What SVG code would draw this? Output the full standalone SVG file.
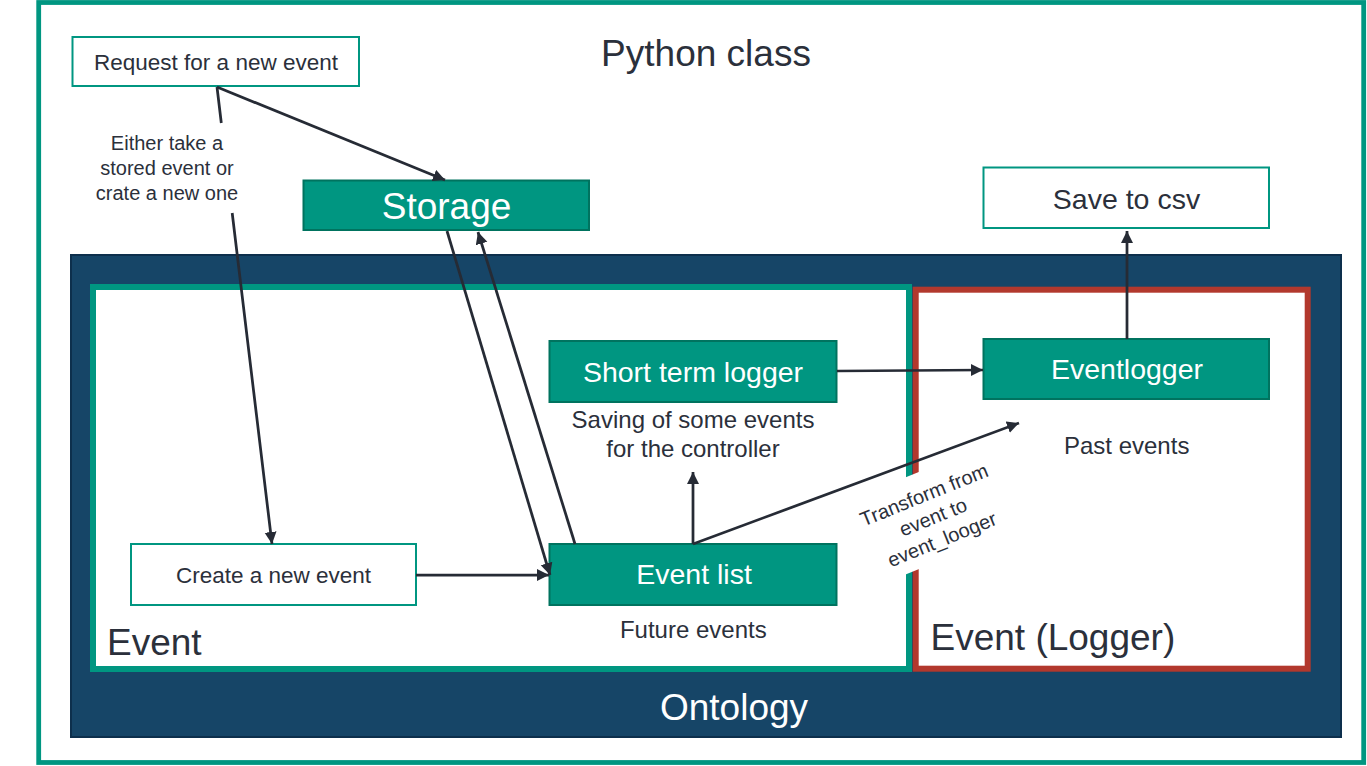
<svg xmlns="http://www.w3.org/2000/svg" width="1367" height="766" viewBox="0 0 1367 766">
<style>
text{font-family:"Liberation Sans",Arial,sans-serif;fill:#2b303b}
.w{fill:#ffffff}
.big{font-size:37px}
.hdr{font-size:28.5px}
.desc{font-size:24px}
.sm{font-size:22.5px}
.lbl{font-size:20px}
.tealbox{fill:#009681;stroke:#00735f;stroke-width:2}
.whitebox{fill:#ffffff;stroke:#009681;stroke-width:2}
.conn{fill:none;stroke:#262b35;stroke-width:2.75}
</style>
<defs>
<marker id="arr" markerUnits="userSpaceOnUse" markerWidth="13" markerHeight="13" refX="12" refY="6" orient="auto">
<path d="M0,0 L12,6 L0,12 z" fill="#262b35"/>
</marker>
</defs>
<rect width="1367" height="766" fill="#ffffff"/>
<g id="python-class">
<rect x="38.7" y="2.5" width="1325" height="760" fill="#ffffff" stroke="#009681" stroke-width="4.8"/>
<text class="big" x="706" y="65.5" text-anchor="middle">Python class</text>
</g>
<g id="ontology">
<rect x="71" y="255" width="1270" height="482" fill="#164567" stroke="#0d2f4c" stroke-width="2"/>
<text class="big w" x="734" y="720" text-anchor="middle">Ontology</text>
</g>
<g id="event-container">
<rect x="93" y="287" width="816" height="382" fill="#ffffff" stroke="#009681" stroke-width="6"/>
<text class="big" x="107" y="655">Event</text>
</g>
<g id="event-logger-container">
<rect x="915.7" y="289.7" width="392" height="379" fill="#ffffff" stroke="#b2382d" stroke-width="6"/>
<text class="big" x="930.5" y="650">Event (Logger)</text>
</g>
<g id="request">
<rect class="whitebox" x="72.5" y="37" width="286.5" height="49"/>
<text class="sm" x="216" y="70" text-anchor="middle">Request for a new event</text>
</g>
<g id="storage">
<rect class="tealbox" x="303.5" y="180.5" width="285.5" height="49.5"/>
<text class="big w" x="446.5" y="218.5" text-anchor="middle">Storage</text>
</g>
<g id="save-csv">
<rect class="whitebox" x="983.5" y="167.5" width="285.5" height="60.5"/>
<text class="hdr" x="1126.5" y="209" text-anchor="middle">Save to csv</text>
</g>
<g id="short-term-logger">
<rect class="tealbox" x="549.5" y="341" width="287" height="61"/>
<text class="hdr w" x="693" y="381.5" text-anchor="middle">Short term logger</text>
<text class="desc" x="693" y="427.5" text-anchor="middle">Saving of some events</text>
<text class="desc" x="693" y="456.7" text-anchor="middle">for the controller</text>
</g>
<g id="eventlogger">
<rect class="tealbox" x="983.5" y="339" width="285.5" height="60"/>
<text class="hdr w" x="1127" y="379.3" text-anchor="middle">Eventlogger</text>
<text class="desc" x="1126.7" y="454.3" text-anchor="middle">Past events</text>
</g>
<g id="create-event">
<rect class="whitebox" x="131" y="544" width="285" height="61"/>
<text class="sm" x="273.5" y="583.3" text-anchor="middle">Create a new event</text>
</g>
<g id="event-list">
<rect class="tealbox" x="549.5" y="544" width="287" height="61"/>
<text class="hdr w" x="694" y="583.5" text-anchor="middle">Event list</text>
<text class="desc" x="693.3" y="638.3" text-anchor="middle">Future events</text>
</g>
<g id="connectors">
<g transform="translate(933,517) rotate(-22)">
<rect x="-75" y="-47" width="150" height="90" fill="#ffffff"/>
<text class="lbl" x="0" y="-17" text-anchor="middle">Transform from</text>
<text class="lbl" x="0" y="7" text-anchor="middle">event to</text>
<text class="lbl" x="0" y="31" text-anchor="middle">event_looger</text>
</g>
<text class="lbl" x="167" y="150" text-anchor="middle">Either take a</text>
<text class="lbl" x="167" y="175" text-anchor="middle">stored event or</text>
<text class="lbl" x="167" y="200" text-anchor="middle">crate a new one</text>
<path class="conn" d="M217,87 L445,180" marker-end="url(#arr)"/>
<path class="conn" d="M217,87 L221.3,123 M232.2,213 L272,544" marker-end="url(#arr)"/>
<path class="conn" d="M447,231 L550,575" marker-end="url(#arr)"/>
<path class="conn" d="M575,544 L478,232" marker-end="url(#arr)"/>
<path class="conn" d="M416,575 L549,575" marker-end="url(#arr)"/>
<path class="conn" d="M693,544 L693,472" marker-end="url(#arr)"/>
<path class="conn" d="M693,544 L1019,423" marker-end="url(#arr)"/>
<path class="conn" d="M837,371 L983,370" marker-end="url(#arr)"/>
<path class="conn" d="M1127,339 L1127,231" marker-end="url(#arr)"/>
</g>
</svg>
